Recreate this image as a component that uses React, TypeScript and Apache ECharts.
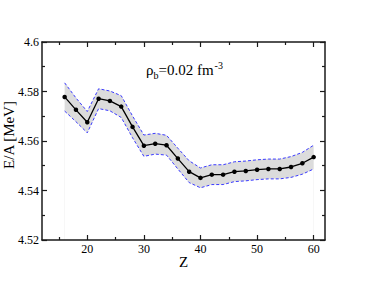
import React, { useEffect, useRef } from "react";
import * as echarts from "echarts";

const Z = [16, 18, 20, 22, 24, 26, 28, 30, 32, 34, 36, 38, 40, 42, 44, 46, 48, 50, 52, 54, 56, 58, 60];
const E_A = [4.5778, 4.5726, 4.5676, 4.5771, 4.5762, 4.5739, 4.5657, 4.5581, 4.5589, 4.5583, 4.5529, 4.5476, 4.5451, 4.5464, 4.5464, 4.5476, 4.5479, 4.5484, 4.5487, 4.5487, 4.5495, 4.551, 4.5535];
const UPPER = [4.5835, 4.5774, 4.5719, 4.5811, 4.5802, 4.5783, 4.5701, 4.5624, 4.5631, 4.5623, 4.5571, 4.552, 4.5491, 4.5504, 4.5504, 4.5516, 4.5519, 4.5524, 4.5527, 4.5527, 4.5537, 4.5554, 4.5583];
const LOWER = [4.5721, 4.5678, 4.5633, 4.5731, 4.5722, 4.5695, 4.5613, 4.5538, 4.5547, 4.5543, 4.5487, 4.5432, 4.5411, 4.5424, 4.5424, 4.5436, 4.5439, 4.5444, 4.5447, 4.5447, 4.5453, 4.5466, 4.5487];

const X_MAJOR = [20, 30, 40, 50, 60];
const X_MINOR = [15, 25, 35, 45, 55];
const Y_MAJOR = [4.52, 4.54, 4.56, 4.58, 4.6];
const Y_MINOR = [4.53, 4.55, 4.57, 4.59];

const FONT = "'Liberation Serif', 'DejaVu Serif', serif";
const AXIS_COLOR = "#1a1a1a";

export default function App() {
  const ref = useRef<HTMLDivElement>(null);

  useEffect(() => {
    if (!ref.current) return;
    const chart = echarts.init(ref.current, undefined, { renderer: "svg" });

    const gridBox = { left: 42, right: 41, top: 42, bottom: 43, containLabel: false, outerBoundsMode: "none" };

    const xAx = (gridIndex: number, position: "bottom" | "top", ticks: number[], len: number, showLine: boolean, showLabel: boolean, name?: string) => ({
      type: "value",
      gridIndex,
      min: 12,
      max: 62,
      position,
      z: 10,
      name,
      nameLocation: "middle",
      nameGap: 14,
      nameMoveOverlap: false,
      nameTextStyle: { fontFamily: FONT, fontSize: 15, color: "#000" },
      axisLine: { show: showLine, onZero: false, lineStyle: { color: AXIS_COLOR, width: 1.5 } },
      axisTick: { show: true, inside: true, length: len, customValues: ticks, lineStyle: { color: AXIS_COLOR, width: 1.2 } },
      axisLabel: { show: showLabel, customValues: X_MAJOR, margin: 3, fontFamily: FONT, fontSize: 12, color: "#000" },
      splitLine: { show: false },
    });

    const yAx = (gridIndex: number, position: "left" | "right", ticks: number[], len: number, showLine: boolean, showLabel: boolean, name?: string) => ({
      type: "value",
      gridIndex,
      min: 4.52,
      max: 4.6,
      position,
      z: 10,
      name,
      nameLocation: "middle",
      nameGap: 26,
      nameMoveOverlap: false,
      nameRotate: 90,
      nameTextStyle: { fontFamily: FONT, fontSize: 15, color: "#000", padding: [0, 0, 0, 12] },
      axisLine: { show: showLine, onZero: false, lineStyle: { color: AXIS_COLOR, width: 1.5 } },
      axisTick: { show: true, inside: true, length: len, customValues: ticks, lineStyle: { color: AXIS_COLOR, width: 1.2 } },
      axisLabel: { show: showLabel, customValues: Y_MAJOR, margin: 3, fontFamily: FONT, fontSize: 12, color: "#000" },
      splitLine: { show: false },
    });

    chart.setOption({
      animation: false,
      grid: [gridBox, gridBox],
      xAxis: [
        xAx(0, "bottom", X_MAJOR, 5, true, true, "Z"),
        xAx(0, "top", X_MAJOR, 5, true, false),
        xAx(1, "bottom", X_MINOR, 3, false, false),
        xAx(1, "top", X_MINOR, 3, false, false),
      ],
      yAxis: [
        yAx(0, "left", Y_MAJOR, 5, true, true, "E/A [MeV]"),
        yAx(0, "right", Y_MAJOR, 5, true, false),
        yAx(1, "left", Y_MINOR, 3, false, false),
        yAx(1, "right", Y_MINOR, 3, false, false),
      ],
      series: [
        {
          type: "line",
          xAxisIndex: 0,
          yAxisIndex: 0,
          data: Z.map((z, i) => [z, UPPER[i]]),
          symbol: "none",
          lineStyle: { opacity: 0 },
          areaStyle: { color: "#dcdcdc", opacity: 1, origin: "start" },
          silent: true,
          z: 1,
        },
        {
          type: "line",
          xAxisIndex: 0,
          yAxisIndex: 0,
          data: Z.map((z, i) => [z, LOWER[i]]),
          symbol: "none",
          lineStyle: { opacity: 0 },
          areaStyle: { color: "#ffffff", opacity: 1, origin: "start" },
          silent: true,
          z: 1.5,
        },
        {
          type: "line",
          xAxisIndex: 0,
          yAxisIndex: 0,
          data: Z.map((z, i) => [z, UPPER[i]]),
          symbol: "none",
          lineStyle: { color: "#3a3aff", width: 1, type: [3, 2] },
          z: 2,
        },
        {
          type: "line",
          xAxisIndex: 0,
          yAxisIndex: 0,
          data: Z.map((z, i) => [z, LOWER[i]]),
          symbol: "none",
          lineStyle: { color: "#3a3aff", width: 1, type: [3, 2] },
          z: 2,
        },
        {
          type: "line",
          xAxisIndex: 0,
          yAxisIndex: 0,
          data: Z.map((z, i) => [z, E_A[i]]),
          symbol: "circle",
          symbolSize: 4.5,
          itemStyle: { color: "#000" },
          lineStyle: { color: "#000", width: 1.3 },
          z: 3,
        },
      ],
      graphic: [
        {
          type: "text",
          left: 146,
          top: 58,
          style: {
            text: "{a|ρ}{b|b}{a|=0.02 fm}{c|-3}",
            rich: {
              a: { fontFamily: FONT, fontSize: 15, color: "#000", lineHeight: 24, verticalAlign: "middle" },
              b: { fontFamily: FONT, fontSize: 10, color: "#000", lineHeight: 24, verticalAlign: "bottom", padding: [0, 0, 2, 0] },
              c: { fontFamily: FONT, fontSize: 10, color: "#000", lineHeight: 24, verticalAlign: "top", padding: [2, 0, 0, 1] },
            },
          },
        },
      ],
    });

    return () => chart.dispose();
  }, []);

  return <div ref={ref} style={{ position: "absolute", left: 0, top: 0, width: 366, height: 283 }} />;
}
